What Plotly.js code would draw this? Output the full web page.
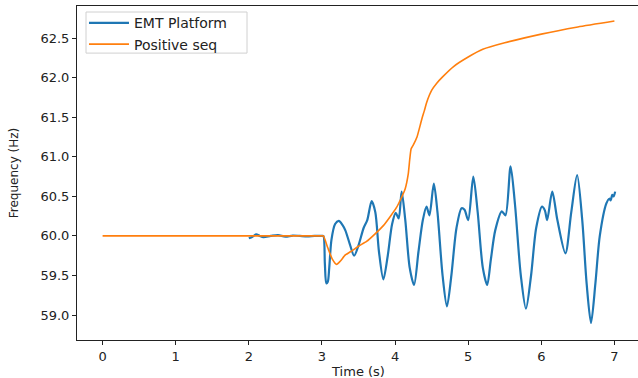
<!DOCTYPE html>
<html>
<head>
<meta charset="utf-8">
<script src="https://cdn.plot.ly/plotly-3.0.1.min.js"></script>
<style>
html, body { margin:0; padding:0; width:638px; height:378px; overflow:hidden; background:#fff; }
#chart { width:660px; height:400px; }
</style>
</head>
<body>
<div id="chart"></div>
<script>
// Positive sequence model frequency
const posT = [0, 3.0, 3.02, 3.08, 3.14, 3.2, 3.25, 3.32, 3.39, 3.5, 3.61, 3.72, 3.84, 3.93, 4.02, 4.08, 4.14, 4.18, 4.2, 4.22, 4.25, 4.3, 4.35, 4.37, 4.4, 4.43, 4.47, 4.5, 4.57, 4.65, 4.8, 5.0, 5.2, 5.5, 6.0, 6.5, 7.0];
const posF = [60.0, 60.0, 60.0, 59.85, 59.71, 59.64, 59.68, 59.76, 59.80, 59.87, 59.93, 60.02, 60.13, 60.24, 60.36, 60.47, 60.6, 60.78, 60.96, 61.1, 61.15, 61.25, 61.42, 61.49, 61.58, 61.68, 61.78, 61.84, 61.93, 62.01, 62.14, 62.26, 62.358, 62.44, 62.55, 62.64, 62.715];

// EMT platform frequency
const emtT = [2.0, 2.05, 2.1, 2.15, 2.2, 2.3, 2.4, 2.5, 2.6, 2.7, 2.8, 2.9, 3.0, 3.02,
  3.04, 3.06, 3.08, 3.1, 3.13, 3.18, 3.23, 3.28, 3.32, 3.38, 3.44, 3.5, 3.57, 3.62, 3.68, 3.73, 3.78, 3.84,
  3.9, 3.96, 4.01, 4.05, 4.09, 4.14, 4.2, 4.26, 4.32, 4.38, 4.43, 4.47, 4.53, 4.58, 4.65, 4.71,
  4.77, 4.84, 4.91, 4.95, 5.0, 5.07, 5.13, 5.2, 5.26, 5.31, 5.37, 5.46, 5.51, 5.58, 5.64, 5.72, 5.79,
  5.86, 5.93, 6.01, 6.05, 6.08, 6.15, 6.22, 6.33, 6.41, 6.49, 6.56, 6.62, 6.68, 6.74, 6.8, 6.89,
  6.93, 6.95, 6.97, 6.99, 7.01];
const emtF = [59.97, 59.99, 60.02, 60.0, 59.985, 60.0, 60.01, 59.99, 60.005, 60.0, 59.995, 60.0, 60.0, 60.0,
  59.65, 59.4, 59.42, 59.6, 59.95, 60.15, 60.19, 60.14, 60.07, 59.9, 59.75, 59.88, 60.1, 60.2, 60.44, 60.3, 59.8, 59.45,
  59.75, 60.15, 60.29, 60.22, 60.56, 60.2, 59.6, 59.38, 59.8, 60.2, 60.37, 60.26, 60.66, 60.3, 59.5, 59.11,
  59.5, 60.1, 60.35, 60.33, 60.2, 60.75, 60.3, 59.6, 59.38, 59.7, 60.07, 60.31, 60.26, 60.88, 60.4, 59.5, 59.08,
  59.5, 60.1, 60.37, 60.32, 60.2, 60.56, 60.2, 59.78, 60.3, 60.77, 60.2, 59.4, 58.90, 59.4, 60.0, 60.41,
  60.47, 60.45, 60.52, 60.5, 60.56];

const xTicks = [0, 1, 2, 3, 4, 5, 6, 7];
const yTicks = [59.0, 59.5, 60.0, 60.5, 61.0, 61.5, 62.0, 62.5];
const seriesNames = ['EMT Platform', 'Positive seq'];

const data = [
  {x: emtT, y: emtF, type: 'scatter', mode: 'lines', name: seriesNames[0],
   line: {color: '#1f77b4', width: 2.2, shape: 'spline', smoothing: 0.8}},
  {x: posT, y: posF, type: 'scatter', mode: 'lines', name: seriesNames[1],
   line: {color: '#ff7f0e', width: 1.6, shape: 'spline', smoothing: 0.5}}
];

const layout = {
  width: 660, height: 400,
  margin: {l: 77, r: 20, t: 6, b: 60},
  paper_bgcolor: '#fff', plot_bgcolor: '#fff',
  font: {family: 'DejaVu Sans, sans-serif', color: '#222', size: 13},
  showlegend: true,
  legend: {x: 0.0124, y: 0.996, xanchor: 'left', yanchor: 'top',
           bgcolor: 'rgba(0,0,0,0)', borderwidth: 0, itemwidth: 40,
           font: {size: 14, color: '#222'}, tracegroupgap: 0},
  shapes: [{type: 'rect', xref: 'paper', yref: 'paper', x0: 0.016, x1: 0.302, y0: 0.859, y1: 0.982,
            line: {color: '#d0d0d0', width: 1}, fillcolor: '#fff', layer: 'below'}],
  xaxis: {range: [-0.35, 7.35], tickvals: xTicks, ticktext: xTicks.map(String),
          showgrid: false, zeroline: false, showline: true, mirror: true,
          linecolor: '#222', linewidth: 1, ticks: 'outside', ticklen: 4, tickcolor: '#222',
          tickfont: {size: 13},
          title: {text: 'Time (s)', font: {size: 13}, standoff: 4}},
  yaxis: {range: [58.685, 62.905], tickvals: yTicks, ticktext: yTicks.map(v => v.toFixed(1)),
          showgrid: false, zeroline: false, showline: true, mirror: true,
          linecolor: '#222', linewidth: 1, ticks: 'outside', ticklen: 4, tickcolor: '#222',
          tickfont: {size: 13},
          title: {text: 'Frequency (Hz)', font: {size: 12}, standoff: 19}}
};

Plotly.newPlot('chart', data, layout, {displayModeBar: false, staticPlot: true});
</script>
</body>
</html>
